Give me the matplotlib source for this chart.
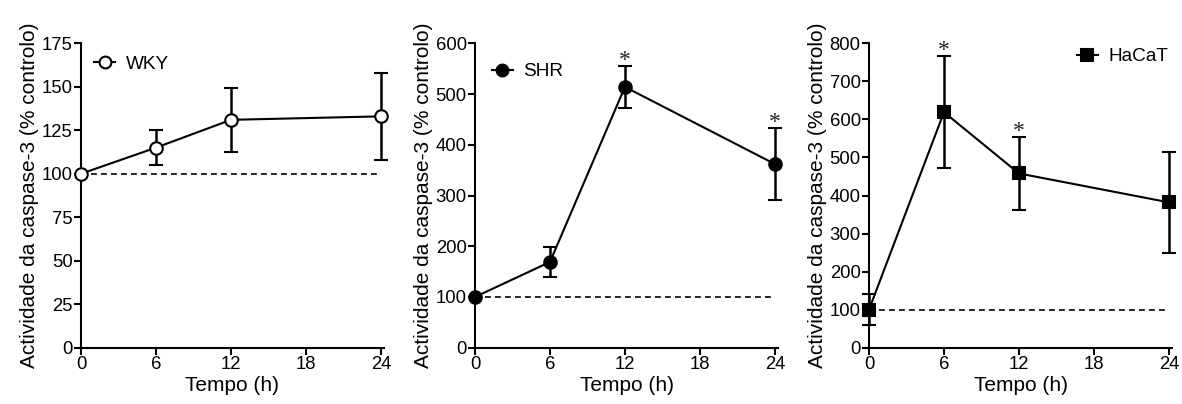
import matplotlib
matplotlib.use('Agg')
import matplotlib.pyplot as plt
from matplotlib.lines import Line2D

plt.rcParams['font.family'] = ['Liberation Sans', 'DejaVu Sans']

tempo = [0, 6, 12, 24]

wky = [100, 115, 131, 133]
wky_err = [0, 10, 18.5, 25]

shr = [100, 169, 514, 362]
shr_err = [0, 30, 41, 71]

hacat = [100, 619, 458, 382]
hacat_err = [40, 148, 97, 132]

series = [
    ('WKY', wky, wky_err, 'o', 'white', [], (0, 175), range(0, 176, 25)),
    ('SHR', shr, shr_err, 'o', 'black', [12, 24], (0, 600), range(0, 601, 100)),
    ('HaCaT', hacat, hacat_err, 's', 'black', [6, 12], (0, 800), range(0, 801, 100)),
]

fig = plt.figure(figsize=(11.82, 4.04), dpi=100)
lefts = [81, 475, 869]
legend_pos = [(0.018, 0.985, 'upper left'), (0.03, 0.96, 'upper left'), (1.012, 1.01, 'upper right')]

for i, (name, vals, errs, mk, fc, stars, ylim, yticks) in enumerate(series):
    ax = fig.add_axes([lefts[i] / 1182, 1 - 347.7 / 404, 303 / 1182, 304.4 / 404])
    ax.axhline(100, xmin=0, xmax=24 / 24.25, color='black', ls=(0, (3.5, 2.5)), lw=1.2, zorder=1)
    ms = 9 if mk == 'o' else 8.5
    ax.errorbar(tempo, vals, yerr=errs, color='black', marker=mk, ms=ms,
                mfc=fc, mec='black', mew=1.5, lw=1.5, elinewidth=1.8, capsize=5, capthick=1.8,
                zorder=3, clip_on=False)
    for t in stars:
        j = tempo.index(t)
        ax.annotate('*', (t, vals[j] + errs[j]), xytext=(0, 0), textcoords='offset points',
                    ha='center', va='baseline', fontsize=17, family='Liberation Serif',
                    color='#222222')
    ax.set_xlim(0, 24.25)
    ax.set_ylim(*ylim)
    ax.set_xticks([0, 6, 12, 18, 24])
    ax.set_yticks(list(yticks))
    ax.spines['top'].set_visible(False)
    ax.spines['right'].set_visible(False)
    ax.spines['left'].set_linewidth(1.5)
    ax.spines['bottom'].set_linewidth(1.5)
    ax.tick_params(direction='out', length=5, width=1.5, labelsize=13.3, pad=1)
    ax.set_xlabel('Tempo (h)', fontsize=15, labelpad=2)
    ax.set_ylabel('Actividade da caspase-3 (% controlo)', fontsize=15, labelpad=2)
    handle = Line2D([], [], color='black', lw=1.5, marker=mk, ms=ms - 0.5, mfc=fc, mec='black', mew=1.5)
    lx, ly, loc = legend_pos[i]
    ax.legend([handle], [name], loc=loc, bbox_to_anchor=(lx, ly), frameon=False, fontsize=13.7,
              handlelength=1.1, handletextpad=0.55, borderaxespad=0)

fig.savefig('out.png', dpi=100)
